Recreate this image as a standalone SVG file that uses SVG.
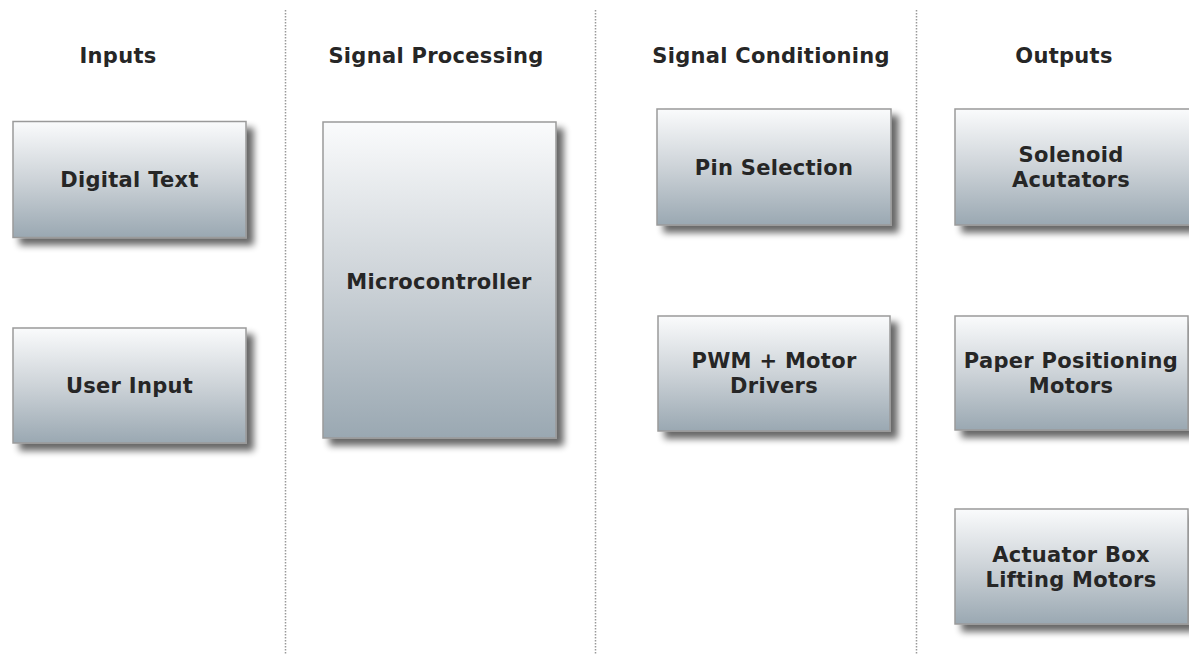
<svg xmlns="http://www.w3.org/2000/svg" width="1189" height="654" viewBox="0 0 1189 654">
  <defs>
    <linearGradient id="boxGrad" x1="0" y1="0" x2="0" y2="1">
      <stop offset="0" stop-color="#fafbfc"/>
      <stop offset="0.5" stop-color="#cdd3d8"/>
      <stop offset="1" stop-color="#9aa8b2"/>
    </linearGradient>
    <filter id="shadow" x="-10%" y="-10%" width="130%" height="130%">
      <feGaussianBlur in="SourceAlpha" stdDeviation="3.5"/>
      <feOffset dx="7" dy="7" result="b"/>
      <feComponentTransfer><feFuncA type="linear" slope="0.6"/></feComponentTransfer>
      <feMerge><feMergeNode/><feMergeNode in="SourceGraphic"/></feMerge>
    </filter>
    <style>
      .box { fill: url(#boxGrad); stroke: #9a9a9a; stroke-width: 1.5; filter: url(#shadow); }
      .lbl, .hdr { font-family: "DejaVu Sans", Verdana, sans-serif; font-weight: bold; font-size: 21px; letter-spacing: 0.3px; fill: #262626; text-anchor: middle; }
      .div { stroke: #999; stroke-width: 1.5; stroke-dasharray: 1.5 1.5; fill: none; }
    </style>
  </defs>
  <rect width="1189" height="654" fill="#fff"/>

  <g id="dividers">
    <line class="div" x1="285.5" y1="10" x2="285.5" y2="654"/>
    <line class="div" x1="595.5" y1="10" x2="595.5" y2="654"/>
    <line class="div" x1="916.5" y1="10" x2="916.5" y2="654"/>
  </g>

  <g id="headers">
    <text class="hdr" x="118" y="63">Inputs</text>
    <text class="hdr" x="436" y="63">Signal Processing</text>
    <text class="hdr" x="771" y="63">Signal Conditioning</text>
    <text class="hdr" x="1064" y="63">Outputs</text>
  </g>

  <g id="digital-text">
    <rect class="box" x="13" y="121.5" width="233" height="116"/>
    <text class="lbl" x="129.5" y="187">Digital Text</text>
  </g>
  <g id="user-input">
    <rect class="box" x="13" y="328" width="233" height="115"/>
    <text class="lbl" x="129.5" y="393">User Input</text>
  </g>
  <g id="microcontroller">
    <rect class="box" x="323" y="122" width="233" height="316"/>
    <text class="lbl" x="439" y="289">Microcontroller</text>
  </g>
  <g id="pin-selection">
    <rect class="box" x="657" y="109" width="234" height="116"/>
    <text class="lbl" x="774" y="175">Pin Selection</text>
  </g>
  <g id="pwm-motor-drivers">
    <rect class="box" x="658" y="316" width="232" height="115"/>
    <text class="lbl" x="774" y="368">PWM + Motor</text>
    <text class="lbl" x="774" y="393">Drivers</text>
  </g>
  <g id="solenoid-actuators">
    <rect class="box" x="955" y="109" width="236" height="116"/>
    <text class="lbl" x="1071" y="162">Solenoid</text>
    <text class="lbl" x="1071" y="187">Acutators</text>
  </g>
  <g id="paper-positioning-motors">
    <rect class="box" x="955" y="316" width="233" height="114"/>
    <text class="lbl" x="1071" y="368">Paper Positioning</text>
    <text class="lbl" x="1071" y="393">Motors</text>
  </g>
  <g id="actuator-box-lifting-motors">
    <rect class="box" x="955" y="509" width="233" height="115"/>
    <text class="lbl" x="1071" y="562">Actuator Box</text>
    <text class="lbl" x="1071" y="587">Lifting Motors</text>
  </g>

  <g id="connectors"></g>
</svg>
